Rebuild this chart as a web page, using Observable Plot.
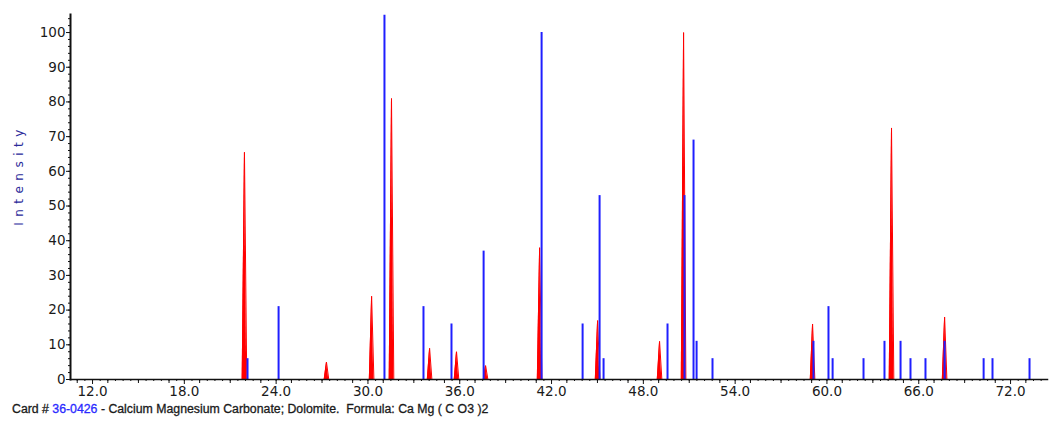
<!DOCTYPE html>
<html><head><meta charset="utf-8">
<script src="https://cdn.jsdelivr.net/npm/d3@7"></script>
<script src="https://cdn.jsdelivr.net/npm/@observablehq/plot@0.6"></script>
<style>
body{margin:0;background:#fff;font-family:"Liberation Sans",Arial,sans-serif;}
#chart{position:absolute;left:0;top:0;}
#caption{position:absolute;left:0;top:398px;width:1050px;height:27px;background:#fff;padding-left:12px;box-sizing:border-box;line-height:22px;font-size:12.3px;color:#1a1a1a;white-space:pre;font-family:"Liberation Sans",Arial,sans-serif;-webkit-text-stroke:0.3px #1a1a1a;}
#caption .card{color:#2a2aff;-webkit-text-stroke:0.3px #2a2aff;}
</style></head><body>
<div id="chart"></div>
<div id="caption">Card # <span class="card">36-0426</span> - Calcium Magnesium Carbonate; Dolomite.  Formula: Ca Mg ( C O3 )2</div>
<script>
// Reference card stick pattern (blue)
const refTwoTheta = [22.13, 24.16, 31.08, 33.63, 35.46, 37.56, 41.35, 44.03, 45.14, 45.40, 49.58, 50.69, 51.28, 51.48, 52.52, 59.12, 60.10, 60.37, 62.39, 63.76, 64.81, 65.46, 66.44, 67.69, 70.24, 70.82, 73.24];
const refIntensity = [6, 21, 105, 21, 16, 37, 100, 16, 53, 6, 16, 53, 69, 11, 6, 11, 21, 6, 6, 11, 11, 6, 6, 11, 6, 6, 6];
// Measured peaks (red)
const obsTwoTheta = [21.93, 27.29, 30.24, 31.54, 34.03, 35.79, 37.69, 41.22, 45.01, 49.06, 50.63, 59.06, 64.22, 67.69];
const obsIntensity = [65.5, 5, 24, 81, 9, 8, 4, 38, 17, 11, 100, 16, 72.5, 18];
// Axis ticks
const xTickValues = [12, 18, 24, 30, 36, 42, 48, 54, 60, 66, 72];
const yTickValues = [0, 10, 20, 30, 40, 50, 60, 70, 80, 90, 100];

const refData = refTwoTheta.map((t, i) => ({t, v: refIntensity[i]}));
const halfWidth = 0.15;
const obsData = obsTwoTheta.flatMap((t, i) => [
  {t: t - halfWidth, v: 0, k: i},
  {t: t, v: obsIntensity[i], k: i},
  {t: t + halfWidth, v: 0, k: i}
]);
const xMinor = d3.range(11, 74.5, 0.5);
const xMid = d3.range(11, 74.5, 2);
const yMinor = d3.range(0, 105, 2);
const blank = () => "";

const chart = Plot.plot({
  width: 1050,
  height: 400,
  marginLeft: 70,
  marginRight: 2,
  marginTop: 14,
  marginBottom: 21,
  style: {fontFamily: "'DejaVu Sans', Verdana, sans-serif", fontSize: "13px", color: "#1a1a1a", background: "#fff"},
  x: {domain: [10.56, 74.48]},
  y: {domain: [0, 105.2]},
  marks: [
    Plot.areaY(obsData, {x: "t", y: "v", z: "k", fill: "#ff0000", curve: "linear"}),
    Plot.lineY(obsData, {x: "t", y: "v", z: "k", stroke: "#ff0000", strokeWidth: 1}),
    Plot.ruleX(refData, {x: "t", y1: 0, y2: "v", stroke: "#1f1fff", strokeWidth: 2}),
    Plot.frame({anchor: "bottom", stroke: "#111", strokeDasharray: "1,1", strokeWidth: 1.5}),
    Plot.frame({anchor: "left", stroke: "#111", strokeDasharray: "6,2", strokeWidth: 2}),
    Plot.axisX({ticks: xMinor, tickFormat: blank, tickSize: 2, stroke: "#111", label: null}),
    Plot.axisX({ticks: xMid, tickFormat: blank, tickSize: 4, stroke: "#111", label: null}),
    Plot.axisX({ticks: xTickValues, tickFormat: d3.format(".1f"), tickSize: 5, tickPadding: 2, label: null, fill: "#1a1a1a", stroke: "#111"}),
    Plot.axisY({ticks: yMinor, tickFormat: blank, tickSize: 2, stroke: "#111", label: null}),
    Plot.axisY({ticks: yTickValues, tickSize: 4, tickPadding: 1, label: "Intensity", labelAnchor: "center", labelArrow: "none", labelOffset: 56, fill: "#1a1a1a", stroke: "#111"})
  ]
});
document.getElementById("chart").appendChild(chart);
// slightly larger tick labels
d3.select(chart).selectAll('g[aria-label="x-axis tick label"], g[aria-label="y-axis tick label"]')
  .style("font-size", "13.5px");
// style the y-axis title: navy, widely spaced, slightly above centre
d3.select(chart).selectAll('g[aria-label="y-axis label"] text')
  .attr("fill", "#2b2b9a").attr("dx", 22)
  .style("font-size", "12px").style("letter-spacing", "5.5px");
</script>
</body></html>
